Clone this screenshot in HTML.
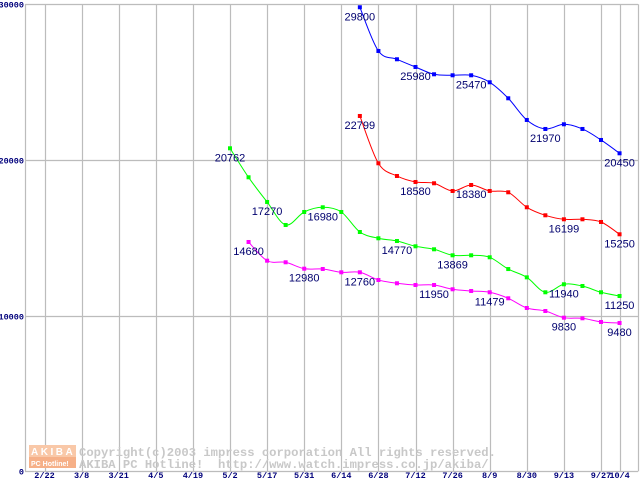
<!DOCTYPE html>
<html><head><meta charset="utf-8">
<style>
html,body{margin:0;padding:0;background:#fff;}
svg{display:block;}
.ax{font-family:"Liberation Mono",monospace;font-size:8.5px;font-weight:bold;fill:#00007b;}
.vl{font-family:"Liberation Sans",sans-serif;font-size:11px;fill:#00006e;}
.wm{font-family:"Liberation Mono",monospace;font-size:12.2px;fill:#c8c8c8;font-weight:bold;white-space:pre;}
</style></head>
<body>
<svg id="chart" width="640" height="480" viewBox="0 0 640 480" xmlns="http://www.w3.org/2000/svg">
  <rect x="0" y="0" width="640" height="480" fill="#fff"/>
  <g id="grid"></g>
  <g id="axes"></g>
  <g>
    <rect x="29" y="445" width="47" height="12" fill="#f9c8a8"/>
    <rect x="29" y="457" width="47" height="11" fill="#f6b088"/>
    <text x="31" y="455" font-family="Liberation Sans,sans-serif" font-size="10" font-weight="bold" fill="#fff" letter-spacing="2.5">AKIBA</text>
    <text x="31" y="466" font-family="Liberation Sans,sans-serif" font-size="7" font-weight="bold" fill="#fff">PC Hotline!</text>
    <text class="wm" x="79" y="456">Copyright(c)2003 impress corporation All rights reserved.</text>
    <text class="wm" x="79" y="468" xml:space="preserve">AKIBA PC Hotline!&#160; http://www.watch.impress.co.jp/akiba/</text>
  </g>
  <g id="series"></g>
</svg>
<script>
const dateLabels = ['2/22','3/8','3/21','4/5','4/19','5/2','5/17','5/31','6/14','6/28','7/12','7/26','8/9','8/30','9/13','9/27','10/4'];
const dateSlots = [0,2,4,6,8,10,12,14,16,18,20,22,24,26,28,30,31];
const yTicks = [0,10000,20000,30000];

const blueStart = 17;
const blueValues = [29809,27002,26469,25974,25505,25441,25441,24992,23964,22571,21993,22294,21993,21286,20431];
const blueLabelSlots = [17,20,23,27,31];
const blueLabelTexts = ['29800','25980','25470','21970','20450'];

const redStart = 17;
const redValues = [22827,19790,18973,18588,18505,18010,18395,18010,17926,16963,16449,16192,16192,16019,15229];
const redLabelSlots = [17,20,23,28,31];
const redLabelTexts = ['22799','18580','18380','16199','15250'];

const greenStart = 10;
const greenValues = [20753,18890,17304,15826,16661,16963,16661,15376,14972,14798,14458,14265,13880,13880,13752,12996,12463,11504,12018,11908,11504,11266];
const greenLabelSlots = [10,12,15,19,22,28,31];
const greenLabelTexts = ['20762','17270','16980','14770','13869','11940','11250'];

const magentaStart = 11;
const magentaValues = [14734,13533,13430,13020,13000,12788,12788,12294,12082,11972,11972,11697,11587,11504,11118,10495,10302,9872,9834,9596,9532];
const magentaLabelSlots = [11,14,17,21,24,28,31];
const magentaLabelTexts = ['14680','12980','12760','11950','11479','9830','9480'];

const NS = 'http://www.w3.org/2000/svg';
const L = 25, R = 638, T = 4.3, B = 471.4, YMAX = 30000;
function xScale(slot){ return 44.5 + slot * 18.55; }
function yScale(v){ return B - v * (B - T) / YMAX; }
function mk(tag, attrs, parent){ const e = document.createElementNS(NS, tag); for (const k in attrs) e.setAttribute(k, attrs[k]); parent.appendChild(e); return e; }

const grid = document.getElementById('grid');
const axes = document.getElementById('axes');
const series = document.getElementById('series');

dateSlots.forEach((s, i) => {
  const x = Math.round(xScale(s)) + 0.5;
  const ln = mk('line', {x1:x, x2:x, y1:T, y2:B, stroke:'#bcbcbc', 'stroke-width':1.2}, grid);
  
  
  const t = mk('text', {x:xScale(s), y:478, 'text-anchor':'middle', class:'ax'}, axes);
  t.textContent = dateLabels[i];
  
  
});
yTicks.forEach(v => {
  const y = Math.round(yScale(v)) + 0.5;
  const ln = mk('line', {x1:L, x2:R, y1:y, y2:y, stroke:'#bcbcbc', 'stroke-width':1.2}, grid);
  
  
  const t = mk('text', {x:24, y:y + 3, 'text-anchor':'end', class:'ax'}, axes);
  t.textContent = String(v);
  
  
});
const lb = mk('line', {x1:L + 0.5, x2:L + 0.5, y1:T, y2:B, stroke:'#bcbcbc', 'stroke-width':1.2}, grid);


const rb = mk('line', {x1:R + 0.5, x2:R + 0.5, y1:T, y2:B, stroke:'#bcbcbc', 'stroke-width':1.2}, grid);



function smoothPath(pts){
  let d = 'M' + pts[0][0] + ',' + pts[0][1];
  for (let i = 0; i < pts.length - 1; i++) {
    const p0 = pts[Math.max(0, i - 1)], p1 = pts[i], p2 = pts[i + 1], p3 = pts[Math.min(pts.length - 1, i + 2)];
    const c1x = p1[0] + (p2[0] - p0[0]) / 6, c1y = p1[1] + (p2[1] - p0[1]) / 6;
    const c2x = p2[0] - (p3[0] - p1[0]) / 6, c2y = p2[1] - (p3[1] - p1[1]) / 6;
    d += ' C' + c1x + ',' + c1y + ' ' + c2x + ',' + c2y + ' ' + p2[0] + ',' + p2[1];
  }
  return d;
}
function drawSeries(name, color, start, values, labelSlots, labelTexts){
  const g = mk('g', {}, series);
  
  
  const pts = values.map((v, i) => [xScale(start + i), yScale(v)]);
  const p = mk('path', {d:smoothPath(pts), fill:'none', stroke:color, 'stroke-width':1}, g);
  
  
  pts.forEach(pt => {
    const r = mk('rect', {x:pt[0] - 2, y:pt[1] - 2, width:4, height:4, fill:color}, g);
    
    
  });
  labelSlots.forEach((s, i) => {
    const v = values[s - start];
    const t = mk('text', {x:xScale(s), y:yScale(v) + 13, 'text-anchor':'middle', class:'vl'}, g);
    t.textContent = labelTexts[i];
    
    
  });
}
drawSeries('magenta', '#ff00ff', magentaStart, magentaValues, magentaLabelSlots, magentaLabelTexts);
drawSeries('green', '#00ff00', greenStart, greenValues, greenLabelSlots, greenLabelTexts);
drawSeries('red', '#ff0000', redStart, redValues, redLabelSlots, redLabelTexts);
drawSeries('blue', '#0000ff', blueStart, blueValues, blueLabelSlots, blueLabelTexts);
</script>
</body></html>
